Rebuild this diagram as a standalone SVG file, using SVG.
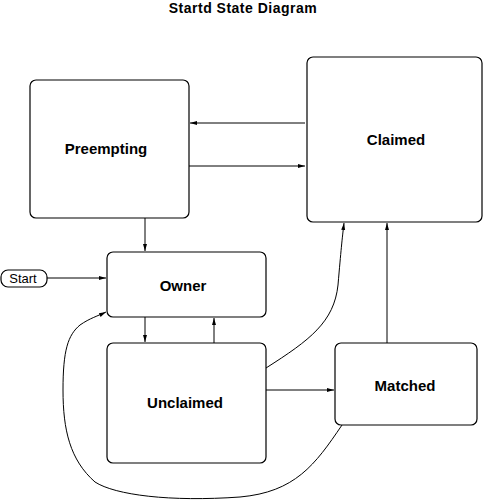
<svg xmlns="http://www.w3.org/2000/svg" width="483" height="500" viewBox="0 0 483 500">
<style>
.box{fill:#fff;stroke:#000;stroke-width:1.2}
.lbl{font-family:"Liberation Sans",Arial,sans-serif;font-weight:bold;font-size:15px;text-anchor:middle;fill:#000}
.c{fill:none;stroke:#000;stroke-width:1}
</style>
<defs>
<marker id="a" markerWidth="8" markerHeight="6" refX="7" refY="3" orient="auto" markerUnits="userSpaceOnUse">
<path d="M0,1 L7,3 L0,5 Z" fill="#000"/>
</marker>
</defs>
<rect width="483" height="500" fill="#fff"/>
<text x="243" y="13" class="lbl" style="font-size:14px;letter-spacing:0.5px">Startd State Diagram</text>
<g id="preempting"><rect class="box" x="30" y="80" width="159" height="138" rx="6"/><text class="lbl" x="106" y="154">Preempting</text></g>
<g id="claimed"><rect class="box" x="307" y="57" width="175" height="165" rx="6"/><text class="lbl" x="396" y="145">Claimed</text></g>
<g id="owner"><rect class="box" x="107" y="252" width="159" height="65" rx="6"/><text class="lbl" x="183" y="291">Owner</text></g>
<g id="unclaimed"><rect class="box" x="107" y="343" width="159" height="120" rx="6"/><text class="lbl" x="185" y="408">Unclaimed</text></g>
<g id="matched"><rect class="box" x="335" y="343" width="142" height="82" rx="6"/><text class="lbl" x="405" y="391">Matched</text></g>
<g id="start"><rect class="box" x="1" y="270" width="46" height="17" rx="7"/><text x="23" y="283" font-family="Liberation Sans,Arial,sans-serif" font-size="13" text-anchor="middle">Start</text></g>
<g id="connectors">
<path class="c" marker-end="url(#a)" d="M305,123 L190,123"/>
<path class="c" marker-end="url(#a)" d="M189,166 L305,166"/>
<path class="c" marker-end="url(#a)" d="M145,218 L145,251"/>
<path class="c" marker-end="url(#a)" d="M47,278 L106,278"/>
<path class="c" marker-end="url(#a)" d="M145,317 L145,342"/>
<path class="c" marker-end="url(#a)" d="M214,343 L214,318"/>
<path class="c" marker-end="url(#a)" d="M266,390 L334,390"/>
<path class="c" marker-end="url(#a)" d="M387,343 L387,223"/>
<path class="c" marker-end="url(#a)" d="M266,368 C310,340 334,322 338,285 C341,250 342,240 344,223"/>
<path class="c" marker-end="url(#a)" d="M342,425 C315,465 295,492 240,497 C170,502 115,495 95,482 C70,460 63,430 63,390 C63,350 68,335 80,325 C90,318 98,316 106,312"/>
</g>
</svg>
